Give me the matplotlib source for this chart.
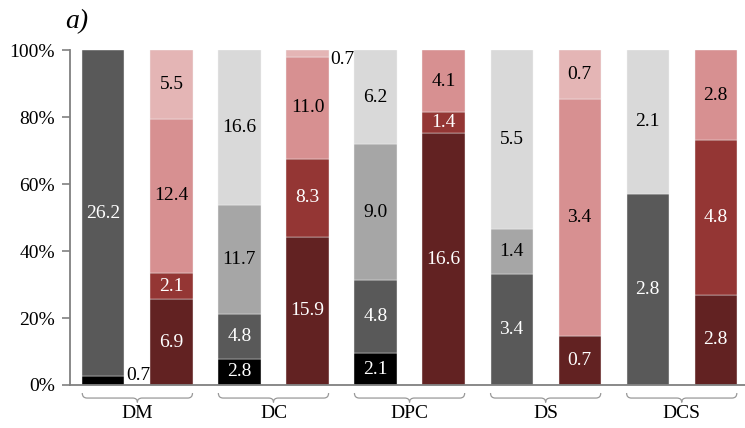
import matplotlib.pyplot as plt
import matplotlib.transforms as mtransforms
from matplotlib.path import Path
from matplotlib.patches import PathPatch
import numpy as np

plt.rcParams['font.family'] = ['Liberation Serif', 'DejaVu Serif']

groups = ['DM', 'DC', 'DPC', 'DS', 'DCS']

# grey bar segments, bottom to top
g_black = [0.7, 2.8, 2.1, 0, 0]
g_dark = [26.2, 4.8, 4.8, 3.4, 2.8]
g_mid = [0, 11.7, 9.0, 1.4, 0]
g_light = [0, 16.6, 6.2, 5.5, 2.1]

# red bar segments, bottom to top
r_dark = [6.9, 15.9, 16.6, 0.7, 2.8]
r_mid = [2.1, 8.3, 1.4, 0, 4.8]
r_pink = [12.4, 11.0, 4.1, 3.4, 2.8]
r_light = [5.5, 0.7, 0, 0.7, 0]

grey_cols = ['#000000', '#595959', '#a6a6a6', '#d9d9d9']
red_cols = ['#622222', '#943634', '#d79091', '#e4b5b5']
txt_cols = ['white', 'white', 'black', 'black']

yticks = [0, 20, 40, 60, 80, 100]
ylabels = ['0%', '20%', '40%', '60%', '80%', '100%']

W = 0.62
FS = 14
fig = plt.figure(figsize=(7.45, 4.28), dpi=100)
ax = fig.add_axes([0.094, 0.1005, 0.906, 0.7825])


def stack(ax, x, segs, cols):
    vals = np.array(segs, dtype=float)
    pct = vals / vals.sum() * 100
    bottom = 0.0
    for v, p, c, tc in zip(vals, pct, cols, txt_cols):
        if v > 0:
            ax.bar(x, p, W, bottom=bottom, color=c, edgecolor='#f4f4f4', linewidth=0.3)
            if p < 5:
                # thin slice: label sits beside the bar, kept inside the axes
                yc = np.clip(bottom + p / 2, 2.7, 97.3)
                ax.text(x + W / 2 + 0.02, yc, f'{v:.1f}',
                        ha='left', va='center', fontsize=FS, color='black')
            else:
                ax.text(x, bottom + p / 2, f'{v:.1f}', ha='center', va='center',
                        fontsize=FS, color=tc)
        bottom += p


for i in range(len(groups)):
    stack(ax, 2 * i, [g_black[i], g_dark[i], g_mid[i], g_light[i]], grey_cols)
    stack(ax, 2 * i + 1, [r_dark[i], r_mid[i], r_pink[i], r_light[i]], red_cols)

ax.set_xlim(-0.49, 9.43)
ax.set_ylim(0, 100)
ax.set_yticks(yticks)
ax.set_yticklabels(ylabels)
ax.set_xticks([])
ax.tick_params(axis='y', length=6, width=1.2, color='#808080', labelsize=FS, pad=5)
for s in ['top', 'right']:
    ax.spines[s].set_visible(False)
for s in ['left', 'bottom']:
    ax.spines[s].set_color('#808080')
    ax.spines[s].set_linewidth(1.3)

# curly braces under each pair of bars
trans = mtransforms.blended_transform_factory(ax.transData, ax.transAxes)
y0, ym, y1 = -0.024, -0.039, -0.052
d = 0.07
for i, g in enumerate(groups):
    x0 = 2 * i - W / 2
    x1 = 2 * i + 1 + W / 2
    xc = (x0 + x1) / 2
    verts = [(x0, y0), (x0, ym), (x0 + d, ym), (x0 + d, ym),
             (xc - d, ym), (xc, ym), (xc, y1),
             (xc, ym), (xc + d, ym),
             (x1 - d, ym), (x1 - d, ym), (x1, ym), (x1, y0)]
    codes = [Path.MOVETO, Path.CURVE3, Path.CURVE3, Path.LINETO,
             Path.LINETO, Path.CURVE3, Path.CURVE3,
             Path.CURVE3, Path.CURVE3,
             Path.LINETO, Path.LINETO, Path.CURVE3, Path.CURVE3]
    ax.add_patch(PathPatch(Path(verts, codes), transform=trans, fill=False,
                           edgecolor='#999999', linewidth=0.9, clip_on=False))
    ax.text(xc, -0.085, g, transform=trans, ha='center', va='center', fontsize=FS)

fig.text(0.087, 0.95, 'a)', style='italic', fontsize=20, va='center')

fig.savefig('out.png', dpi=100)
